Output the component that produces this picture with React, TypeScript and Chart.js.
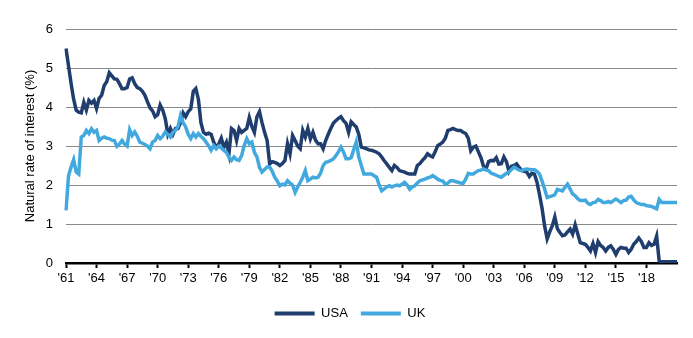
import React, { useEffect, useRef } from 'react';
import { Chart, registerables } from 'chart.js';

Chart.register(...registerables);

const START_YEAR = 1961;
const SERIES_NAMES = ['USA', 'UK'];
const TICK_LABELS = ["'61", "'64", "'67", "'70", "'73", "'76", "'79", "'82", "'85", "'88", "'91", "'94", "'97", "'00", "'03", "'06", "'09", "'12", "'15", "'18"];
const Y_TICKS = [0, 1, 2, 3, 4, 5, 6];

// quarterly, 1961 Q1 .. 2021 Q1
const USA = [
  5.5, 5.05, 4.6, 4.2,
  3.92, 3.87, 3.85, 4.12,
  3.92, 4.17, 4.1, 4.17,
  3.96, 4.22, 4.3, 4.55,
  4.65, 4.88, 4.8, 4.72,
  4.71, 4.6, 4.47, 4.47,
  4.5, 4.72, 4.75, 4.6,
  4.5, 4.47, 4.4, 4.3,
  4.13, 3.98, 3.9, 3.75,
  3.8, 4.05, 3.92, 3.7,
  3.3, 3.45, 3.3, 3.45,
  3.45, 3.6, 3.85, 3.75,
  3.88, 3.95, 4.4, 4.47,
  4.2, 3.6, 3.35, 3.3,
  3.33, 3.3, 3.1, 2.97,
  3.05, 3.2, 2.97, 3.1,
  2.8, 3.45, 3.4, 3.14,
  3.45, 3.35, 3.4, 3.45,
  3.73, 3.5, 3.35, 3.75,
  3.88, 3.6, 3.35, 3.14,
  2.54, 2.6, 2.58, 2.55,
  2.5, 2.55, 2.63, 3.06,
  2.8, 3.27, 3.14, 3.0,
  2.93, 3.4, 3.23, 3.45,
  3.18, 3.35, 3.15, 3.06,
  3.06, 2.93, 3.14, 3.3,
  3.45, 3.58, 3.65, 3.71,
  3.75, 3.65, 3.58, 3.35,
  3.62, 3.55, 3.49, 3.3,
  2.97, 2.95, 2.93, 2.9,
  2.89, 2.87, 2.84, 2.8,
  2.72, 2.62, 2.54, 2.45,
  2.37, 2.5, 2.45, 2.37,
  2.35, 2.33, 2.3, 2.28,
  2.28, 2.28, 2.5, 2.55,
  2.63, 2.7, 2.8, 2.75,
  2.72, 2.85, 3.01, 3.05,
  3.1, 3.2, 3.4, 3.42,
  3.45, 3.42, 3.4, 3.4,
  3.35, 3.32, 3.2, 2.88,
  2.97, 3.0, 2.85, 2.7,
  2.48, 2.42, 2.6, 2.63,
  2.62, 2.7, 2.54, 2.55,
  2.72, 2.6, 2.35, 2.48,
  2.5, 2.54, 2.45, 2.37,
  2.35, 2.33, 2.22, 2.3,
  2.28, 2.07, 1.75, 1.4,
  0.95, 0.62, 0.8, 0.95,
  1.18, 0.88, 0.78, 0.7,
  0.72, 0.8, 0.87, 0.74,
  0.98, 0.75, 0.52, 0.5,
  0.48, 0.4, 0.31, 0.5,
  0.27, 0.55, 0.45, 0.4,
  0.31, 0.4, 0.44, 0.35,
  0.22, 0.35, 0.4, 0.38,
  0.38, 0.27, 0.35, 0.48,
  0.55, 0.64, 0.55, 0.4,
  0.4, 0.52, 0.45, 0.48,
  0.69, 0.05, 0.03, 0.03,
  0.03, 0.03, 0.03, 0.03,
  0.03,
];

const UK = [
  1.35, 2.24, 2.46, 2.65,
  2.33, 2.28, 3.23, 3.27,
  3.4, 3.32, 3.44, 3.35,
  3.4, 3.14, 3.2, 3.23,
  3.2, 3.19, 3.15, 3.14,
  2.99, 3.05, 3.14, 3.05,
  3.0, 3.42, 3.27, 3.36,
  3.25, 3.1, 3.07, 3.04,
  3.0, 2.93, 3.1, 3.14,
  3.27, 3.19, 3.25, 3.36,
  3.3, 3.23, 3.35, 3.4,
  3.5, 3.78, 3.6, 3.49,
  3.3, 3.19, 3.32, 3.23,
  3.32, 3.25, 3.19, 3.1,
  3.01, 2.89, 3.01, 2.93,
  3.0, 2.95, 2.89, 2.84,
  2.71, 2.63, 2.72, 2.65,
  2.63, 2.76, 3.01, 3.19,
  3.06, 3.1, 2.84, 2.72,
  2.45, 2.33, 2.4, 2.46,
  2.46, 2.35, 2.2, 2.1,
  1.98, 2.02, 2.0, 2.11,
  2.05, 2.0, 1.81, 1.95,
  2.07, 2.2, 2.37, 2.11,
  2.15, 2.2, 2.18, 2.2,
  2.3, 2.5, 2.58, 2.6,
  2.63, 2.67, 2.75, 2.85,
  2.97, 2.85, 2.67, 2.67,
  2.7, 2.9, 3.1, 2.72,
  2.5, 2.28, 2.28, 2.28,
  2.28, 2.24, 2.2, 2.0,
  1.85, 1.9, 1.95, 1.98,
  1.95, 1.98, 2.0, 1.98,
  2.02, 2.07, 2.0, 1.89,
  1.95, 1.98, 2.05, 2.11,
  2.13, 2.15, 2.18, 2.2,
  2.24, 2.2, 2.15, 2.12,
  2.1, 2.02, 2.05, 2.11,
  2.11, 2.09, 2.07, 2.05,
  2.04, 2.15, 2.3, 2.28,
  2.28, 2.33, 2.37, 2.38,
  2.41, 2.38, 2.37, 2.3,
  2.28, 2.25, 2.22, 2.2,
  2.25, 2.3, 2.33, 2.4,
  2.46, 2.42, 2.38, 2.37,
  2.4, 2.41, 2.4, 2.39,
  2.39, 2.35, 2.28, 2.1,
  1.9, 1.68, 1.7, 1.72,
  1.75, 1.89, 1.87, 1.85,
  1.94, 2.02, 1.9, 1.77,
  1.72, 1.65, 1.6, 1.6,
  1.61, 1.53, 1.5, 1.55,
  1.56, 1.63, 1.6, 1.55,
  1.55, 1.58, 1.55, 1.6,
  1.64, 1.6, 1.55, 1.6,
  1.61, 1.69, 1.71, 1.62,
  1.55, 1.52, 1.5, 1.5,
  1.47, 1.46, 1.45, 1.42,
  1.39, 1.63, 1.55, 1.55,
  1.55, 1.55, 1.55, 1.55,
  1.55,
];

const QUARTERS = USA.map((_, i) => `${START_YEAR + Math.floor(i / 4)} Q${(i % 4) + 1}`);

const USA_COLOR = '#1f3d6d';
const UK_COLOR = '#42a9df';
const FONT = "'Liberation Sans', Arial, Helvetica, sans-serif";

export default function App() {
  const ref = useRef<HTMLCanvasElement>(null);

  useEffect(() => {
    document.body.style.margin = '0';
    const canvas = ref.current;
    if (!canvas) return;
    Chart.defaults.font.family = FONT;
    Chart.defaults.font.size = 13;
    Chart.defaults.color = '#000';

    const chart = new Chart(canvas, {
      type: 'line',
      data: {
        labels: QUARTERS,
        datasets: [
          {
            label: SERIES_NAMES[0],
            data: USA,
            borderColor: USA_COLOR,
            backgroundColor: USA_COLOR,
            borderWidth: 3.5,
            pointRadius: 0,
            tension: 0,
            order: 1,
          },
          {
            label: SERIES_NAMES[1],
            data: UK,
            borderColor: UK_COLOR,
            backgroundColor: UK_COLOR,
            borderWidth: 3.5,
            pointRadius: 0,
            tension: 0,
            order: 0,
          },
        ],
      },
      options: {
        responsive: false,
        animation: false,
        layout: { padding: { left: 7, right: 0, top: 29, bottom: 8 } },
        plugins: {
          tooltip: { enabled: false },
          legend: {
            position: 'bottom',
            labels: {
              boxWidth: 40,
              boxHeight: 4,
              padding: 13,
              font: { size: 13, family: FONT },
              color: '#000',
              generateLabels: (c: any) =>
                c.data.datasets.map((ds: any, i: number) => ({
                  text: ds.label,
                  fillStyle: ds.borderColor,
                  strokeStyle: ds.borderColor,
                  lineWidth: 0,
                  hidden: false,
                  datasetIndex: i,
                })),
            },
          },
        },
        scales: {
          x: {
            type: 'category',
            offset: false,
            afterBuildTicks: (s: any) => {
              s.ticks = s.ticks.filter((t: any) => t.value % 12 === 0 && t.value / 12 < TICK_LABELS.length);
            },
            afterFit: (s: any) => {
              s.height = 31;
            },
            ticks: {
              autoSkip: false,
              maxRotation: 0,
              padding: 3,
              color: '#000',
              font: { size: 13, family: FONT },
              callback: (v: any) => TICK_LABELS[Math.round(v / 12)],
            },
            grid: {
              drawOnChartArea: false,
              drawTicks: true,
              tickLength: 5,
              tickColor: '#000',
              tickWidth: 2,
            },
            border: { display: true, color: '#000', width: 2.5 },
          },
          y: {
            min: 0,
            max: 6,
            afterBuildTicks: (s: any) => {
              s.ticks = Y_TICKS.map((v) => ({ value: v }));
            },
            afterFit: (s: any) => {
              s.width = 59;
            },
            ticks: {
              padding: 13,
              color: '#000',
              font: { size: 13, family: FONT },
            },
            grid: { color: '#8a8a8a', lineWidth: 1, drawTicks: false },
            border: { display: false },
            title: {
              display: true,
              text: 'Natural rate of interest (%)',
              color: '#000',
              font: { size: 13, family: FONT },
              padding: { top: 16, bottom: 0 },
            },
          },
          y2: {
            type: 'linear',
            position: 'right',
            display: true,
            grid: { display: false },
            border: { display: false },
            ticks: { display: false },
            afterFit: (s: any) => {
              s.width = 16;
            },
          },
        },
      },
    });
    return () => chart.destroy();
  }, []);

  return (
    <div style={{ width: 693, height: 338 }}>
      <canvas ref={ref} width={693} height={338} style={{ display: 'block' }} />
    </div>
  );
}
